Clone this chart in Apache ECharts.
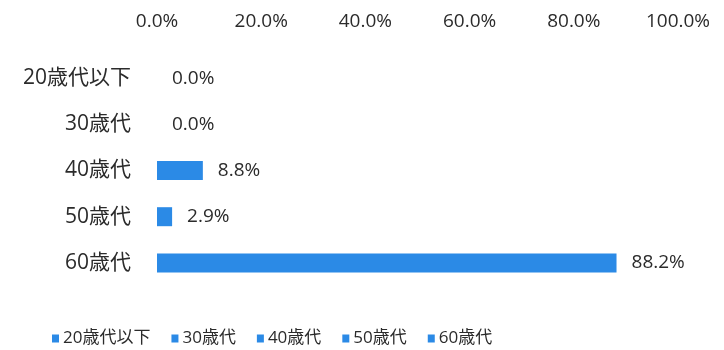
<!DOCTYPE html>
<html>
<head>
<meta charset="utf-8">
<script src="https://cdn.jsdelivr.net/npm/echarts@6/dist/echarts.min.js"></script>
<style>
  html, body { margin: 0; padding: 0; background: #fff; }
  #chart { width: 724px; height: 350px; }
</style>
</head>
<body>
<div id="chart"></div>
<script>
// Age groups, top to bottom
var categories = ['20歳代以下', '30歳代', '40歳代', '50歳代', '60歳代'];
// Share of respondents per age group (%)
var shares = [0.0, 0.0, 8.8, 2.9, 88.2];
// Percentage axis ticks
var axisMin = 0;
var axisMax = 100;
var axisStep = 20;

var barColor = '#2b8ae6';
var textColor = '#2b2b2b';
var fontFamily = '"Open Sans", "Noto Sans CJK JP", sans-serif';
var fontWeight = 'normal';

function pct(v) { return Number(v).toFixed(1) + '%'; }

// One series per age group so each gets its own legend entry
var series = categories.map(function (name, i) {
  return {
    name: name,
    type: 'bar',
    stack: 'all',
    barWidth: 19,
    data: categories.map(function (_, j) { return j === i ? shares[i] : '-'; }),
    itemStyle: { color: barColor },
    label: {
      show: true,
      position: 'right',
      distance: 15,
      color: textColor,
      fontSize: 19,
      fontWeight: fontWeight,
      fontFamily: fontFamily,
      formatter: function (p) { return pct(p.value); }
    }
  };
});

var chart = echarts.init(document.getElementById('chart'));
chart.setOption({
  animation: false,
  color: [barColor, barColor, barColor, barColor, barColor],
  grid: { left: 157, right: 46, top: 55, bottom: 64 },
  xAxis: {
    type: 'value',
    position: 'top',
    min: axisMin,
    max: axisMax,
    interval: axisStep,
    axisLine: { show: false },
    axisTick: { show: false },
    splitLine: { show: false },
    axisLabel: {
      color: textColor,
      fontSize: 19,
      fontWeight: fontWeight,
      fontFamily: fontFamily,
      margin: 24,
      formatter: pct
    }
  },
  yAxis: {
    type: 'category',
    inverse: true,
    data: categories,
    axisLine: { show: false },
    axisTick: { show: false },
    axisLabel: {
      color: textColor,
      fontSize: 21,
      fontWeight: fontWeight,
      fontFamily: fontFamily,
      margin: 26
    }
  },
  legend: {
    top: 325,
    left: 47,
    itemWidth: 7,
    itemHeight: 8,
    itemGap: 21,
    icon: 'rect',
    textStyle: { color: textColor, fontSize: 17, fontWeight: fontWeight, fontFamily: fontFamily, padding: [0, 0, 0, -1] },
    data: categories
  },
  series: series
});
</script>
</body>
</html>
